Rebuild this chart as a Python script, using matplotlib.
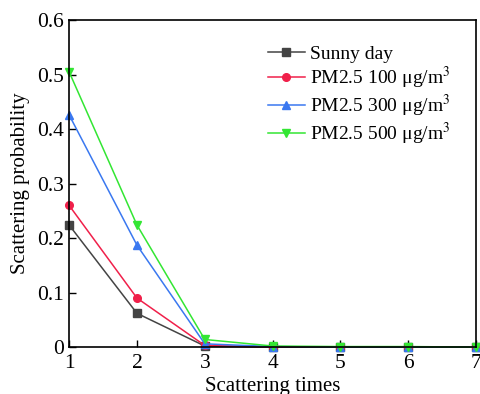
import matplotlib
matplotlib.use("Agg")
import matplotlib.pyplot as plt

plt.rcParams["font.family"] = ["Liberation Serif", "DejaVu Serif"]
plt.rcParams["mathtext.fontset"] = "stix"

times = [1, 2, 3, 4, 5, 6, 7]
sunny = [0.224, 0.062, 0.002, 0.0, 0.0, 0.0, 0.0]
pm100 = [0.260, 0.090, 0.003, 0.0, 0.0, 0.0, 0.0]
pm300 = [0.426, 0.187, 0.006, 0.001, 0.0, 0.0, 0.0]
pm500 = [0.505, 0.224, 0.014, 0.002, 0.001, 0.001, 0.0]

series = [
    ("Sunny day", sunny, "#444444", "s"),
    ("PM2.5 100 μg/m$^3$", pm100, "#f0204a", "o"),
    ("PM2.5 300 μg/m$^3$", pm300, "#3a78f0", "^"),
    ("PM2.5 500 μg/m$^3$", pm500, "#33e633", "v"),
]

fig = plt.figure(figsize=(4.8, 3.94), dpi=100)
ax = fig.add_axes([0.144, 0.119, 0.848, 0.830])

for label, vals, col, mk in series:
    ax.plot(times, vals, color=col, marker=mk, markersize=5.5, lw=1.1,
            label=label, clip_on=False)

ax.set_xlim(1, 7)
ax.set_ylim(0, 0.6)
ax.set_xticks(times)
ax.set_yticks([0, 0.1, 0.2, 0.3, 0.4, 0.5, 0.6])
ax.set_yticklabels(["0", "0.1", "0.2", "0.3", "0.4", "0.5", "0.6"])
ax.tick_params(direction="in", labelsize=15.5, length=5, width=1)
ax.tick_params(axis="x", pad=5)
for s in ax.spines.values():
    s.set_linewidth(1.2)
ax.set_xlabel("Scattering times", fontsize=15, labelpad=3)
ax.set_ylabel("Scattering probability", fontsize=15, labelpad=5)

ax.legend(loc="upper right", frameon=False, fontsize=14, handlelength=1.9,
          handletextpad=0.3, labelspacing=0.1, borderaxespad=0.9)

fig.savefig("out.png", dpi=100)
